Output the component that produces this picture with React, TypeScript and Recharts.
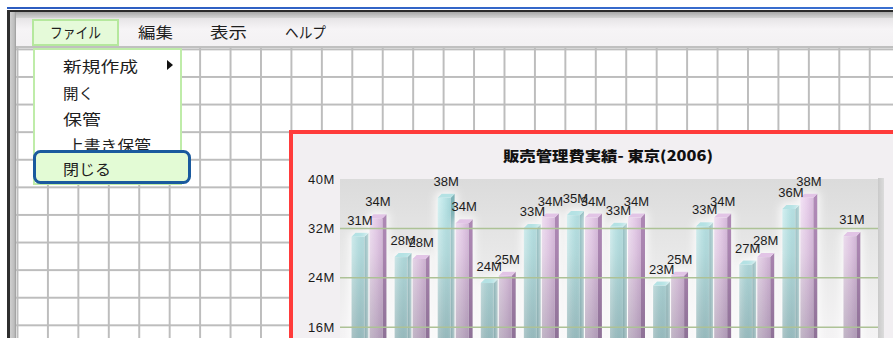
import React from 'react';
import { BarChart, Bar, XAxis, YAxis, CartesianGrid, ReferenceLine, LabelList } from 'recharts';

// ---- data ----
const months = ['1月', '2月', '3月', '4月', '5月', '6月', '7月', '8月', '9月', '10月', '11月', '12月'];
const budgetValues: (number | null)[] = [31.3, 28.0, 37.6, 23.8, 32.7, 34.8, 32.9, 23.4, 33.0, 26.8, 35.8, null];
const actualValues: (number | null)[] = [34.3, 27.7, 33.5, 25.0, 34.4, 34.4, 34.4, 25.0, 34.4, 28.0, 37.6, 31.4];
const yTicks = [0, 8, 16, 24, 32, 40];
const gridValues = [8, 16, 24, 32];
const menuBar = ['ファイル', '編集', '表示', 'ヘルプ'];
const fileMenu = ['新規作成', '開く', '保管', '上書き保管', '閉じる'];
const chartTitle = '販売管理費実績- 東京(2006)';

// ---- layout (not data) ----
const menuBarLayout = [
  { x: 50, w: 51 },
  { x: 138, w: 35 },
  { x: 210, w: 37 },
  { x: 285, w: 41 },
];
const fileMenuLayout = [
  { x: 63, y: 65, w: 75 },
  { x: 63, y: 92, w: 31 },
  { x: 63, y: 118, w: 38 },
  { x: 67, y: 144, w: 84 },
  { x: 63, y: 168, w: 48 },
];

const data = months.map((m, i) => ({ month: m, budget: budgetValues[i], actual: actualValues[i] }));

const JP = "'Noto Sans CJK JP', 'Noto Sans', sans-serif";
const LAT = "'Liberation Sans', Arial, sans-serif";

const colors = {
  c: { side: '#7fb6ba', top: '#b4e2e4' },
  p: { side: '#b38cba', top: '#e2c4e6' },
};

function make3DBar(kind: 'c' | 'p') {
  return (props: any) => {
    const { x, y, width, height } = props;
    if (x == null || y == null || !height || height <= 0) return <g />;
    const d = 4;
    const fw = width - d;
    const side = `M${x + fw},${y + d}L${x + width},${y}L${x + width},${y + height}L${x + fw},${y + height}Z`;
    const top = `M${x},${y + d}L${x + d},${y}L${x + width},${y}L${x + fw},${y + d}Z`;
    return (
      <g filter="url(#glow)">
        <rect x={x} y={y + d} width={fw} height={height - d} fill={`url(#${kind}Front)`} />
        <rect x={x} y={y + d} width={fw} height={height - d} fill="url(#shade)" />
        <path d={side} fill={colors[kind].side} />
        <path d={side} fill="url(#shade)" />
        <path d={top} fill={colors[kind].top} />
      </g>
    );
  };
}

const renderLabel = (props: any) => {
  const { x, y, width, value } = props;
  if (value == null || x == null) return null;
  return (
    <text x={x + width / 2} y={y - 8} textAnchor="middle" fontSize={13} fontFamily={LAT} fill="#1c1c1c">
      {`${Math.round(value)}M`}
    </text>
  );
};

const YTick = (props: any) => {
  const { x, y, payload } = props;
  return (
    <text x={x} y={y} textAnchor="end" dominantBaseline="central" fontSize={13} fontFamily={LAT} fill="#1a1a1a" letterSpacing={0.6}>
      {`${payload.value}M`}
    </text>
  );
};

export default function App() {
  return (
    <div style={{ position: 'fixed', left: 0, top: 0, width: 893, height: 338, overflow: 'hidden', background: '#fff' }}>
      {/* window frame */}
      <div style={{ position: 'absolute', left: 7, top: 7, width: 886, height: 2, background: 'linear-gradient(to right,#2c5cc0,#3a6fd0)' }} />
      <div style={{ position: 'absolute', left: 7, top: 10, width: 886, height: 2, background: '#2a2a2a' }} />
      <div style={{ position: 'absolute', left: 7, top: 12, width: 886, height: 6, background: 'linear-gradient(to bottom,#a8a8a8,#d4d4d4)' }} />
      <div style={{ position: 'absolute', left: 7, top: 10, width: 3, height: 330, background: '#2e2e2e' }} />
      <div style={{ position: 'absolute', left: 10, top: 12, width: 6, height: 330, background: 'linear-gradient(to right,#cfcfcf,#bdbdbd 70%,#9a9a9a)' }} />
      {/* menu bar */}
      <div style={{ position: 'absolute', left: 16, top: 18, width: 877, height: 28, background: 'linear-gradient(to bottom,#e6e4e6,#f6f4f6 40%,#f3f1f3)' }} />
      <div style={{ position: 'absolute', left: 16, top: 46, width: 877, height: 2, background: '#c0c0c0' }} />
      {/* grid */}
      <div
        style={{
          position: 'absolute',
          left: 16,
          top: 48,
          width: 877,
          height: 290,
          backgroundColor: '#fff',
          backgroundImage:
            'linear-gradient(to right, #bdbdbd 0, #bdbdbd 2px, transparent 2px), linear-gradient(to bottom, #bdbdbd 0, #bdbdbd 2px, transparent 2px)',
          backgroundSize: '30.44px 27.6px',
          backgroundPosition: '0.5px 0.4px',
        }}
      />
      {/* chart frame */}
      <div
        style={{
          position: 'absolute',
          left: 289,
          top: 130,
          width: 700,
          height: 300,
          border: '4px solid #ff3b3b',
          background: '#f2eff2',
        }}
      />
      <div style={{ position: 'absolute', left: 878, top: 178, width: 6, height: 200, background: 'linear-gradient(to right,#c9c9c9,#dcdcdc)' }} />

      <div style={{ position: 'absolute', left: 290, top: 130 }}>
        <BarChart
          width={600}
          height={330}
          data={data}
          margin={{ top: 49, right: 12, bottom: 34, left: 0 }}
          barSize={17}
          barGap={1}
        >
          <defs>
            <linearGradient id="plotBg" x1="0" y1="0" x2="0" y2="1">
              <stop offset="0" stopColor="#dbdbdb" />
              <stop offset="0.3" stopColor="#e8e8e8" />
              <stop offset="0.6" stopColor="#f3f2f3" />
              <stop offset="1" stopColor="#f8f7f8" />
            </linearGradient>
            <linearGradient id="cFront" x1="0" y1="0" x2="1" y2="0">
              <stop offset="0" stopColor="#d8f5f6" />
              <stop offset="0.5" stopColor="#c0e9eb" />
              <stop offset="1" stopColor="#a9dadd" />
            </linearGradient>
            <linearGradient id="pFront" x1="0" y1="0" x2="1" y2="0">
              <stop offset="0" stopColor="#f6e6f8" />
              <stop offset="0.5" stopColor="#ecd3ef" />
              <stop offset="1" stopColor="#dcbee1" />
            </linearGradient>
            <linearGradient id="shade" gradientUnits="userSpaceOnUse" x1="0" y1="49" x2="0" y2="296">
              <stop offset="0" stopColor="#000" stopOpacity="0" />
              <stop offset="0.3" stopColor="#000" stopOpacity="0.06" />
              <stop offset="1" stopColor="#102030" stopOpacity="0.38" />
            </linearGradient>
            <filter id="glow" x="-80%" y="-20%" width="260%" height="140%">
              <feMorphology in="SourceAlpha" operator="dilate" radius="2" result="d" />
              <feGaussianBlur in="d" stdDeviation="4" result="b" />
              <feFlood floodColor="#ffffff" floodOpacity="0.9" />
              <feComposite in2="b" operator="in" result="g" />
              <feMerge>
                <feMergeNode in="g" />
                <feMergeNode in="SourceGraphic" />
              </feMerge>
            </filter>
          </defs>
          <CartesianGrid horizontal={false} vertical={false} fill="url(#plotBg)" stroke="none" />
          {gridValues.map((v) => (
            <ReferenceLine key={v} y={v} stroke="#adc296" strokeWidth={1.5} ifOverflow="visible" />
          ))}
          <XAxis dataKey="month" hide padding={{ left: 7.5, right: 13.5 }} />
          <YAxis
            domain={[0, 40]}
            ticks={yTicks}
            width={50}
            axisLine={false}
            tickLine={false}
            tickSize={3}
            tickMargin={2}
            tick={<YTick />}
            interval={0}
          />
          <Bar dataKey="budget" isAnimationActive={false} shape={make3DBar('c')}>
            <LabelList dataKey="budget" content={renderLabel} />
          </Bar>
          <Bar dataKey="actual" isAnimationActive={false} shape={make3DBar('p')}>
            <LabelList dataKey="actual" content={renderLabel} />
          </Bar>
        </BarChart>
      </div>

      {/* overlay: menus and title */}
      <svg width={893} height={338} style={{ position: 'absolute', left: 0, top: 0, pointerEvents: 'none' }}>
        {/* File menu button */}
        <rect x={33} y={20} width={85} height={25} fill="#e5fad9" stroke="#b5e89d" strokeWidth={2} />
        {menuBar.map((t, i) => (
          <text
            key={t}
            x={menuBarLayout[i].x}
            y={31.5}
            dominantBaseline="central"
            fontSize={15}
            fontFamily={JP}
            fill="#1e1e1e"
            textLength={menuBarLayout[i].w}
            lengthAdjust="spacingAndGlyphs"
          >
            {t}
          </text>
        ))}
        {/* dropdown */}
        <rect x={34} y={49} width={147} height={135} fill="#ffffff" stroke="#bfeca9" strokeWidth={2} />
        {fileMenu.map((t, i) => (
          <text
            key={t}
            x={fileMenuLayout[i].x}
            y={fileMenuLayout[i].y}
            dominantBaseline="central"
            fontSize={15}
            fontFamily={JP}
            fill="#1e1e1e"
            textLength={fileMenuLayout[i].w}
            lengthAdjust="spacingAndGlyphs"
          >
            {t}
          </text>
        ))}
        <path d="M167,60L173,65L167,70Z" fill="#111" />
        {/* highlighted item */}
        <rect x={34.5} y={151.5} width={155} height={31} rx={6} ry={6} fill="#e3fbd5" stroke="#1a5a9e" strokeWidth={3} />
        <text
          x={fileMenuLayout[4].x}
          y={fileMenuLayout[4].y}
          dominantBaseline="central"
          fontSize={15}
          fontFamily={JP}
          fill="#1e1e1e"
          textLength={fileMenuLayout[4].w}
          lengthAdjust="spacingAndGlyphs"
        >
          {fileMenu[4]}
        </text>
        {/* chart title */}
        <text
          x={503}
          y={155}
          dominantBaseline="central"
          fontSize={14}
          fontWeight={900}
          fontFamily={JP}
          fill="#111"
          textLength={210}
          lengthAdjust="spacingAndGlyphs"
        >
          {chartTitle}
        </text>
      </svg>
    </div>
  );
}
